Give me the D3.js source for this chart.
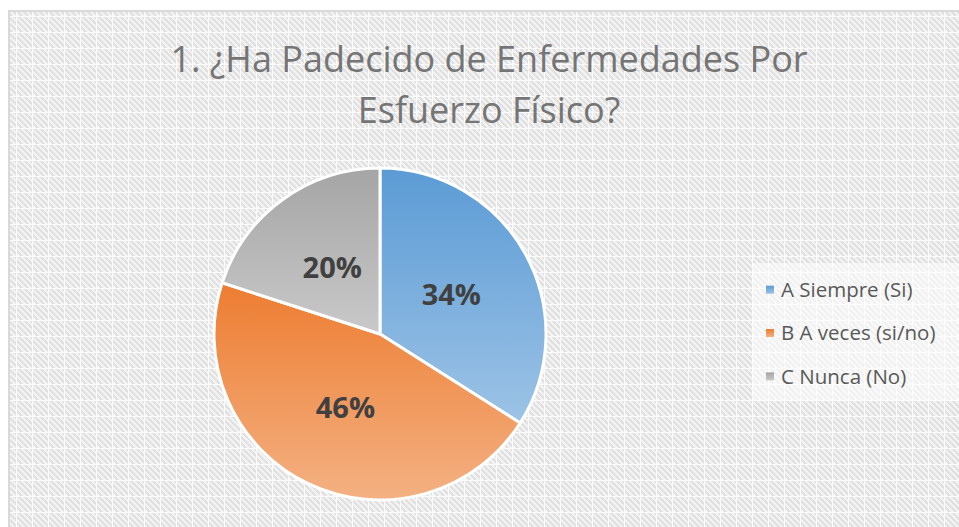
<!DOCTYPE html>
<html>
<head>
<meta charset="utf-8">
<script src="https://cdn.jsdelivr.net/npm/d3@7"></script>
<style>
  body { margin:0; background:#fff; }
  svg { display:block; }
</style>
</head>
<body>
<svg id="chart" width="959" height="527"></svg>
<script>
// datos del gráfico
const categories = ['A Siempre (Si)', 'B A veces (si/no)', 'C Nunca (No)']
const values = [34, 46, 20]
const colorsTop = ['#5b9bd5', '#ed7d31', '#a5a5a5']
const colorsBottom = ['#9dc3e6', '#f4b183', '#c9c9c9']
const titleLines = ['1. ¿Ha Padecido de Enfermedades Por', 'Esfuerzo Físico?']

const width = 959, height = 527
const svg = d3.select('#chart')
const defs = svg.append('defs')

// fondo con rayas
const pat = defs.append('pattern').attr('id','bg').attr('width',16).attr('height',16)
  .attr('patternUnits','userSpaceOnUse')
pat.append('rect').attr('width',16).attr('height',16).attr('fill','#f4f4f4')
for (let k = -16; k <= 16; k += 6) {
  pat.append('line').attr('x1',k).attr('y1',0).attr('x2',k+16).attr('y2',16)
    .attr('stroke','#dfdfdf').attr('stroke-width',2)
}
pat.append('line').attr('x1',0).attr('y1',0.5).attr('x2',16).attr('y2',0.5).attr('stroke','#fbfbfb').attr('stroke-width',1)
pat.append('line').attr('x1',0.5).attr('y1',0).attr('x2',0.5).attr('y2',16).attr('stroke','#fbfbfb').attr('stroke-width',1)

svg.append('rect').attr('x',9).attr('y',11).attr('width',width).attr('height',height)
  .attr('fill','url(#bg)').attr('stroke','#d9d9d9').attr('stroke-width',2)

// título
svg.append('g').selectAll('text').data(titleLines).enter().append('text')
  .text(d => d)
  .attr('x', 489)
  .attr('y', (d,i) => 72 + i*51)
  .attr('text-anchor','middle')
  .attr('font-family','"Open Sans", sans-serif')
  .attr('font-size', 36)
  .attr('fill','#757575')

// gradientes
values.forEach((v,i) => {
  const g = defs.append('linearGradient').attr('id',`grad${i}`)
    .attr('x1',0).attr('y1',0).attr('x2',0).attr('y2',1)
  g.append('stop').attr('offset','0%').attr('stop-color',colorsTop[i])
  g.append('stop').attr('offset','100%').attr('stop-color',colorsBottom[i])
})

const cx = 380, cy = 334, r = 166
const pie = d3.pie().sort(null).value(d => d)
const arcs = pie(values)
const arc = d3.arc().innerRadius(0).outerRadius(r)
const labelArc = d3.arc().innerRadius(r*0.49).outerRadius(r*0.49)
const total = d3.sum(values)

const gp = svg.append('g').attr('transform',`translate(${cx},${cy})`)
gp.selectAll('path').data(arcs).enter().append('path')
  .attr('d', arc)
  .attr('fill', (d,i) => `url(#grad${i})`)
  .attr('stroke','#fff')
  .attr('stroke-width',3)
  .attr('stroke-linejoin','round')

gp.selectAll('text').data(arcs).enter().append('text')
  .text(d => Math.round(d.value / total * 100) + '%')
  .attr('x', d => labelArc.centroid(d)[0])
  .attr('y', d => labelArc.centroid(d)[1])
  .attr('dy','0.35em')
  .attr('text-anchor','middle')
  .attr('font-family','"Open Sans", sans-serif')
  .attr('font-weight','bold')
  .attr('font-size', 29)
  .attr('fill','#404040')

// leyenda
svg.append('rect').attr('x',752).attr('y',263).attr('width',210).attr('height',138)
  .attr('fill','#ffffff').attr('opacity',0.55)
const y = d3.scaleBand().domain(categories).range([268, 398])
const lg = svg.append('g').selectAll('g').data(categories).enter().append('g')
  .attr('transform', d => `translate(766,${y(d) + y.bandwidth()/2})`)
lg.append('rect').attr('x',0).attr('y',-4).attr('width',8).attr('height',8)
  .attr('fill',(d,i) => `url(#grad${i})`)
lg.append('text').text(d => d)
  .attr('x',15).attr('dy','0.35em')
  .attr('font-family','"Open Sans", sans-serif')
  .attr('font-size',20.5)
  .attr('fill','#595959')
</script>
</body>
</html>
